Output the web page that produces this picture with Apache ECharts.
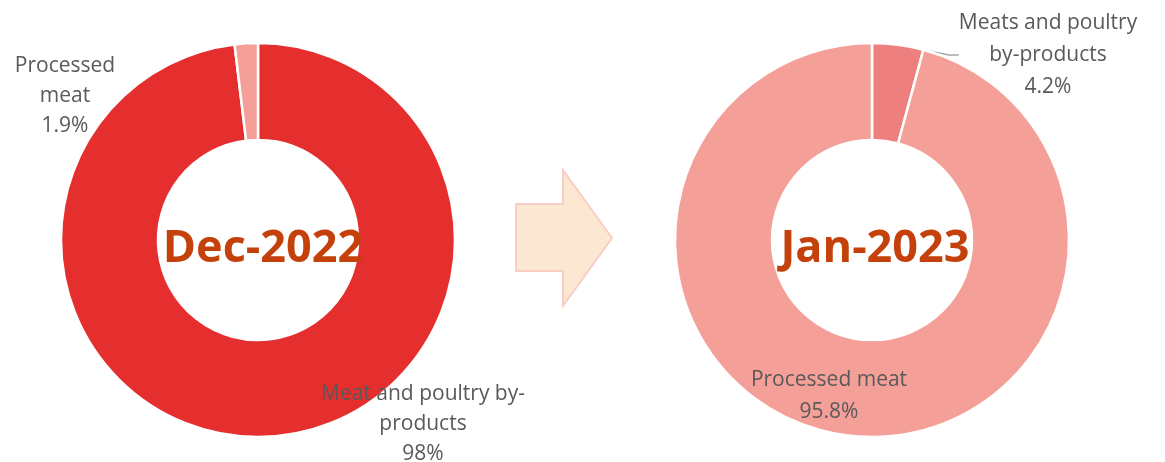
<!DOCTYPE html>
<html>
<head>
<meta charset="utf-8">
<script src="https://cdn.jsdelivr.net/npm/echarts@6/dist/echarts.min.js"></script>
<style>
html, body { margin: 0; padding: 0; background: #fff; }
#main { width: 1165px; height: 462px; }
</style>
</head>
<body>
<div id="main"></div>
<script>
// periods shown in the donut centres
var periods = ['Dec-2022', 'Jan-2023'];

// Dec-2022 shares
var decNames = ['Meat and poultry by-products', 'Processed meat'];
var decValues = [98.1, 1.9];
var decLabels = ['Meat and poultry by-\nproducts\n98%', 'Processed\nmeat\n1.9%'];

// Jan-2023 shares
var janNames = ['Meats and poultry by-products', 'Processed meat'];
var janValues = [4.2, 95.8];
var janLabels = ['Meats and poultry\nby-products\n4.2%', 'Processed meat\n95.8%'];

var decColors = ['#e52f2f', '#f4a098'];
var janColors = ['#ee7f7f', '#f3988f'];

// label centres, by slice
var decLabelPos = [[423, 424], [65, 96]];
var janLabelPos = [[1048, 55], [829, 396]];

function buildData(names, values, labels) {
	var data = [];
	for (var i = 0; i < names.length; i++) {
		data.push({ name: names[i], value: values[i], labelText: labels[i] });
	}
	return data;
}

function makePie(cx, data, colors, pos, lineIdx, lh) {
	return {
		type: 'pie',
		center: [cx, 240],
		radius: [100, 197],
		startAngle: 90,
		clockwise: true,
		silent: true,
		animation: false,
		color: colors,
		itemStyle: { borderColor: '#fff', borderWidth: 2.5 },
		label: {
			show: true,
			position: 'outside',
			formatter: function (p) { return p.data.labelText; },
			color: '#595959',
			fontFamily: 'Open Sans',
			fontSize: 21,
			lineHeight: lh,
			align: 'center'
		},
		labelLine: {
			show: false,
			lineStyle: { color: '#a6a6a6', width: 1.5 }
		},
		labelLayout: function (p) {
			return {
				x: pos[p.dataIndex][0],
				y: pos[p.dataIndex][1],
				align: 'center',
				verticalAlign: 'middle'
			};
		},
		data: data.map(function (d, i) {
			if (i === lineIdx) {
				d.labelLine = { show: true, length: 10, length2: 10 };
			}
			return d;
		})
	};
}

var myChart = echarts.init(document.getElementById('main'));
var titleStyle = { color: '#c5410c', fontSize: 45, fontWeight: 'bold', fontFamily: 'Open Sans' };
var option = {
	backgroundColor: '#fff',
	title: [ {
		text: periods[0],
		left: 258,
		top: 244,
		textAlign: 'center',
		textVerticalAlign: 'middle',
		textStyle: titleStyle
	}, {
		text: periods[1],
		left: 870,
		top: 244,
		textAlign: 'center',
		textVerticalAlign: 'middle',
		textStyle: titleStyle
	} ],
	graphic: [ {
		type: 'polygon',
		shape: {
			points: [[516, 204], [563, 204], [563, 170], [612, 238], [563, 306], [563, 271], [516, 271]]
		},
		style: { fill: '#fce8d2', stroke: '#f9cdc5', lineWidth: 2 }
	} ],
	series: [
		makePie(258, buildData(decNames, decValues, decLabels), decColors, decLabelPos, -1, 30),
		makePie(872, buildData(janNames, janValues, janLabels), janColors, janLabelPos, 0, 32)
	]
};
myChart.setOption(option);
</script>
</body>
</html>
